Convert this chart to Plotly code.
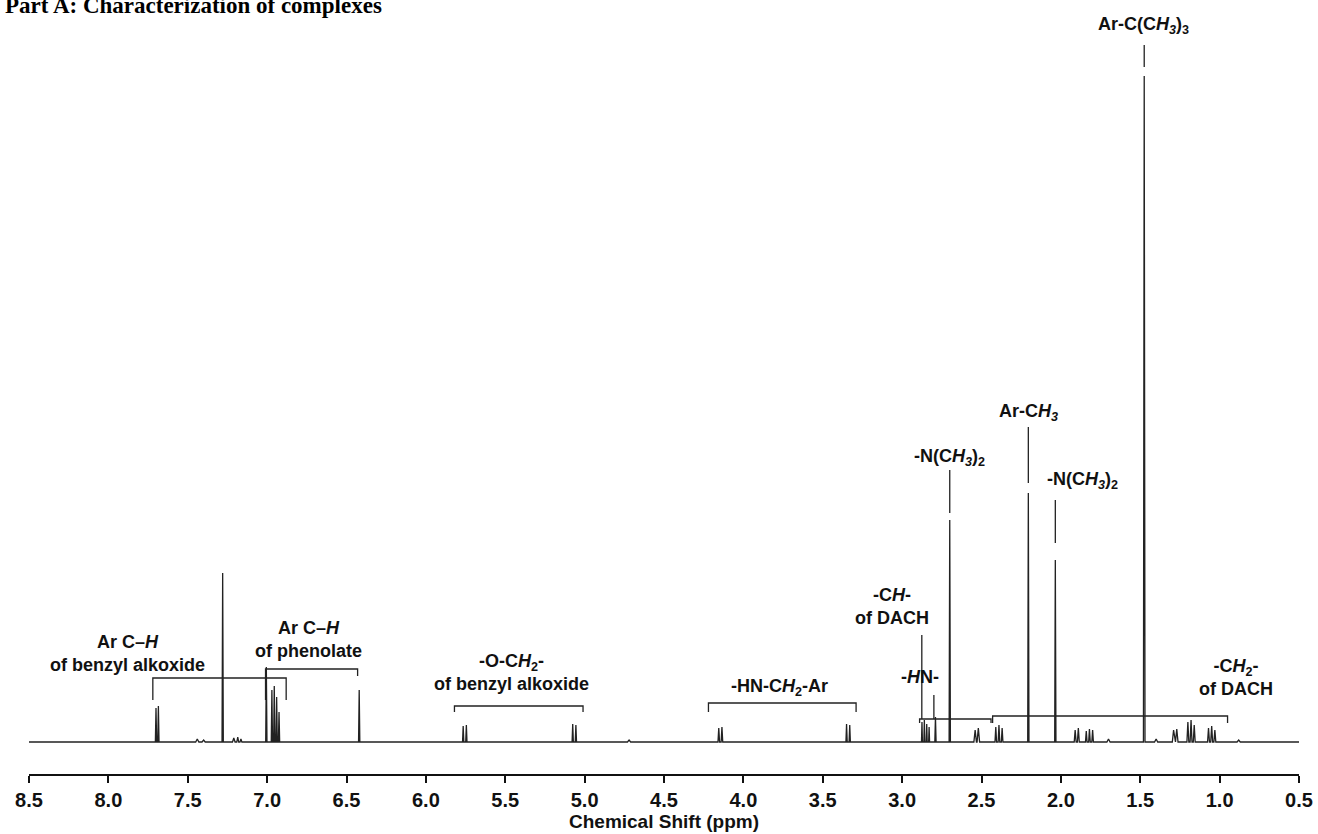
import plotly.graph_objects as go

# ---------------- data ----------------
# 1H NMR peaks: chemical shift (ppm), height (arb. units), half base width (ppm)
peak_ppm = [7.700, 7.685, 7.440, 7.400, 7.280, 7.210, 7.185, 7.165, 7.005,
            6.970, 6.955, 6.940, 6.925, 6.420, 5.765, 5.745, 5.075, 5.055,
            4.720, 4.155, 4.135, 3.350, 3.330, 2.875, 2.860, 2.845, 2.830,
            2.790, 2.700, 2.540, 2.520, 2.410, 2.390, 2.370, 2.205, 2.035,
            1.910, 1.890, 1.840, 1.820, 1.800, 1.700, 1.475, 1.400, 1.290,
            1.270, 1.200, 1.180, 1.160, 1.070, 1.050, 1.030, 0.880]
peak_height = [34, 36, 3, 2, 169, 4, 5, 3, 75,
               52, 56, 45, 30, 52, 16, 17, 18, 17,
               2, 14, 15, 18, 17, 20, 22, 18, 15,
               25, 222, 12, 14, 15, 17, 14, 249, 182,
               12, 14, 11, 13, 12, 3, 666, 3, 12,
               13, 20, 22, 17, 14, 16, 12, 2]
peak_halfwidth = [0.004, 0.004, 0.010, 0.010, 0.004, 0.008, 0.006, 0.006, 0.004,
                  0.004, 0.004, 0.004, 0.004, 0.004, 0.004, 0.004, 0.004, 0.004,
                  0.010, 0.005, 0.005, 0.004, 0.004, 0.003, 0.003, 0.003, 0.003,
                  0.004, 0.004, 0.008, 0.008, 0.005, 0.005, 0.005, 0.004, 0.004,
                  0.006, 0.006, 0.005, 0.005, 0.005, 0.010, 0.005, 0.010, 0.008,
                  0.008, 0.006, 0.006, 0.006, 0.006, 0.006, 0.006, 0.010]

# assignment labels
label_text = [
    "Ar C–<i>H</i><br>of benzyl alkoxide",
    "Ar C–<i>H</i><br>of phenolate",
    "-O-C<i>H</i><sub>2</sub>-<br>of benzyl alkoxide",
    "-HN-C<i>H</i><sub>2</sub>-Ar",
    "-C<i>H</i>-<br>of DACH",
    "-<i>H</i>N-",
    "-N(C<i>H</i><sub><i>3</i></sub>)<sub>2</sub>",
    "Ar-C<i>H</i><sub><i>3</i></sub>",
    "-N(C<i>H</i><sub><i>3</i></sub>)<sub>2</sub>",
    "Ar-C(C<i>H</i><sub><i>3</i></sub>)<sub>3</sub>",
    "-C<i>H</i><sub>2</sub>-<br>of DACH",
]
label_ppm = [7.88, 6.74, 5.46, 3.77, 3.065, 2.887, 2.70, 2.205, 1.866, 1.48, 0.895]
label_level = [89, 103, 70, 55, 136, 65, 285, 330, 262, 717, 65]

# brackets grouping multiplets
bracket_left = [7.72, 7.01, 5.82, 4.22, 2.89, 2.43]
bracket_right = [6.88, 6.43, 5.01, 3.29, 2.44, 0.95]
bracket_top = [64, 73, 36, 39, 23, 26]
bracket_left_end = [42, 42, 30, 30, 19, 19]
bracket_right_end = [42, 66, 30, 30, 19, 19]

# vertical connectors from labels
connector_ppm = [2.876, 2.800, 2.700, 2.205, 2.035, 1.475]
connector_top = [107, 47, 272, 315, 242, 697]
connector_bottom = [23, 23, 229, 259, 199, 675]

x_ticks = [8.5, 8.0, 7.5, 7.0, 6.5, 6.0, 5.5, 5.0, 4.5, 4.0, 3.5, 3.0, 2.5, 2.0, 1.5, 1.0, 0.5]
x_tick_text = ["8.5", "8.0", "7.5", "7.0", "6.5", "6.0", "5.5", "5.0", "4.5",
               "4.0", "3.5", "3.0", "2.5", "2.0", "1.5", "1.0", "0.5"]

title_text = "Part A: Characterization of complexes"
x_title = "Chemical Shift (ppm)"

# ---------------- build spectrum path ----------------
order = sorted(range(len(peak_ppm)), key=lambda i: -peak_ppm[i])
sx, sy = [x_ticks[0]], [0]
for i in order:
    p, h, w = peak_ppm[i], peak_height[i], peak_halfwidth[i]
    sx += [p + w, p, p - w]
    sy += [0, h, 0]
sx.append(x_ticks[-1])
sy.append(0)

W, H = 1318, 834
ML, MR, MT, MB = 29, 19, 0, 60
PH = H - MT - MB
Y0 = -32  # bottom of plot area in intensity units
Y1 = Y0 + PH

SANS = "Liberation Sans, Arial, sans-serif"
LABEL_FONT = dict(family=SANS, size=18, color="#111", weight="bold")
LINE_COL = "#222"

fig = go.Figure()
fig.add_trace(go.Scatter(x=sx, y=sy, mode="lines",
                         line=dict(color=LINE_COL, width=1.3),
                         hoverinfo="skip", showlegend=False))

shapes = []
for l, r, t, le, re in zip(bracket_left, bracket_right, bracket_top,
                           bracket_left_end, bracket_right_end):
    shapes.append(dict(type="path", xref="x", yref="y",
                       path=f"M {l},{le} L {l},{t} L {r},{t} L {r},{re}",
                       line=dict(color=LINE_COL, width=1.3)))
for p, t, b in zip(connector_ppm, connector_top, connector_bottom):
    shapes.append(dict(type="line", xref="x", yref="y", x0=p, x1=p, y0=b, y1=t,
                       line=dict(color=LINE_COL, width=1.3)))

annotations = []
for txt, p, lv in zip(label_text, label_ppm, label_level):
    annotations.append(dict(text=txt, x=p, y=lv, xref="x", yref="y",
                            showarrow=False, xanchor="center", yanchor="middle",
                            font=LABEL_FONT, align="center"))
annotations.append(dict(text=f"<b>{title_text}</b>", xref="paper", yref="paper",
                        x=(3 - ML) / (W - ML - MR), y=1 - 20 / PH,
                        xanchor="left", yanchor="bottom", showarrow=False,
                        font=dict(family="Liberation Serif, Times New Roman, serif",
                                  size=23, color="#000")))

fig.update_layout(
    width=W, height=H,
    margin=dict(l=ML, r=MR, t=MT, b=MB, autoexpand=False),
    paper_bgcolor="white", plot_bgcolor="white",
    shapes=shapes, annotations=annotations,
    xaxis=dict(range=[x_ticks[0], x_ticks[-1]], tickvals=x_ticks, ticktext=x_tick_text,
               showline=True, linecolor="#111", linewidth=1.6,
               ticks="outside", ticklen=7, tickwidth=1.6, tickcolor="#111",
               showgrid=False, zeroline=False,
               tickfont=dict(family=SANS, size=20, color="#111", weight="bold"),
               title=dict(text=x_title, standoff=2,
                          font=dict(family=SANS, size=19, color="#111", weight="bold")),
               automargin=False),
    yaxis=dict(range=[Y0, Y1], visible=False, fixedrange=True),
    showlegend=False,
)

fig.write_html("out.html")
